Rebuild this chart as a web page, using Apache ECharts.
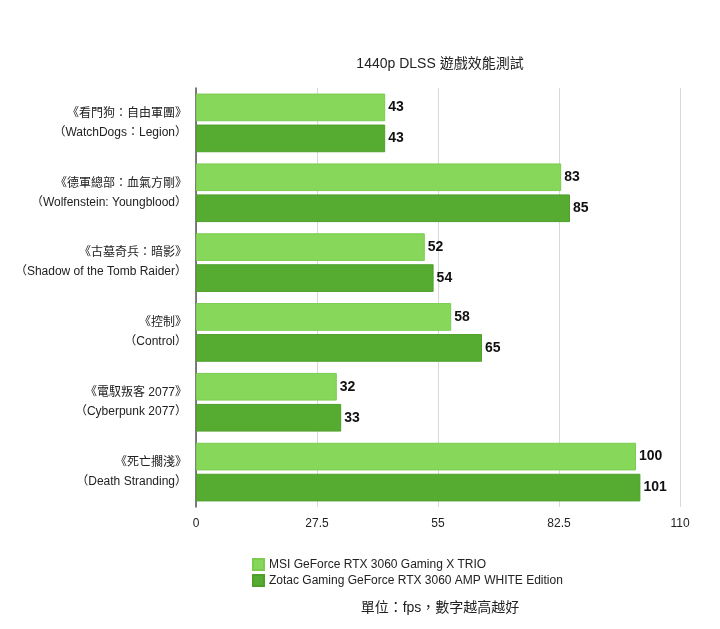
<!DOCTYPE html>
<html><head><meta charset="utf-8">
<script src="https://cdn.jsdelivr.net/npm/echarts@6/dist/echarts.min.js"></script>
<style>html,body{margin:0;padding:0;background:#fff}#c{width:720px;height:629px}</style>
</head><body><div id="c"></div>
<script>
const categories = [
  "《看門狗：自由軍團》\n（WatchDogs：Legion）",
  "《德軍總部：血氣方剛》\n（Wolfenstein: Youngblood）",
  "《古墓奇兵：暗影》\n（Shadow of the Tomb Raider）",
  "《控制》\n（Control）",
  "《電馭叛客 2077》\n（Cyberpunk 2077）",
  "《死亡擱淺》\n（Death Stranding）"
];
const seriesNames = ["MSI GeForce RTX 3060 Gaming X TRIO", "Zotac Gaming GeForce RTX 3060 AMP WHITE Edition"];
const msiValues = [43, 83, 52, 58, 32, 100];
const zotacValues = [43, 85, 54, 65, 33, 101];
const xTicks = [0, 27.5, 55, 82.5, 110];

const font = '"Helvetica Neue", "Liberation Sans", "Noto Sans CJK TC", sans-serif';
const chart = echarts.init(document.getElementById('c'));
chart.setOption({
  animation: false,
  textStyle: {fontFamily: font},
  title: [
    {text: '1440p DLSS 遊戲效能測試', left: 435, top: 52, textAlign: 'center',
     textStyle: {fontSize: 14, fontWeight: 'normal', color: '#222', fontFamily: font}},
    {text: '單位：fps，數字越高越好', left: 435, top: 596, textAlign: 'center',
     textStyle: {fontSize: 14, fontWeight: 'normal', color: '#222', fontFamily: font}}
  ],
  legend: {
    orient: 'vertical', left: 247, top: 553, itemWidth: 11, itemHeight: 11, itemGap: 3,
    icon: 'rect',
    textStyle: {fontSize: 12, color: '#222', fontFamily: font},
    data: seriesNames
  },
  grid: {left: 196, right: 40, top: 88, bottom: 122},
  xAxis: {
    type: 'value', min: 0, max: 110, interval: 27.5,
    axisLine: {show: false}, axisTick: {show: false},
    splitLine: {lineStyle: {color: '#d8d8d8', width: 1}},
    axisLabel: {color: '#222', fontSize: 12, margin: 11,
      formatter: v => xTicks.includes(v) ? String(v) : ''}
  },
  yAxis: {
    type: 'category', inverse: true, data: categories,
    axisLine: {show: true, lineStyle: {color: '#555', width: 1.5}},
    axisTick: {show: false},
    axisLabel: {color: '#222', fontSize: 12, lineHeight: 19, margin: 9, align: 'right'}
  },
  series: [
    {name: seriesNames[0], type: 'bar', data: msiValues, barGap: '12%', barCategoryGap: '16%',
     itemStyle: {color: '#87d75a', borderColor: '#7bcc4f', borderWidth: 1},
     label: {show: true, position: 'right', distance: 3, fontWeight: 'bold', fontSize: 14, color: '#111'}},
    {name: seriesNames[1], type: 'bar', data: zotacValues,
     itemStyle: {color: '#56ab31', borderColor: '#4ea02a', borderWidth: 1},
     label: {show: true, position: 'right', distance: 3, fontWeight: 'bold', fontSize: 14, color: '#111'}}
  ]
});
</script></body></html>
